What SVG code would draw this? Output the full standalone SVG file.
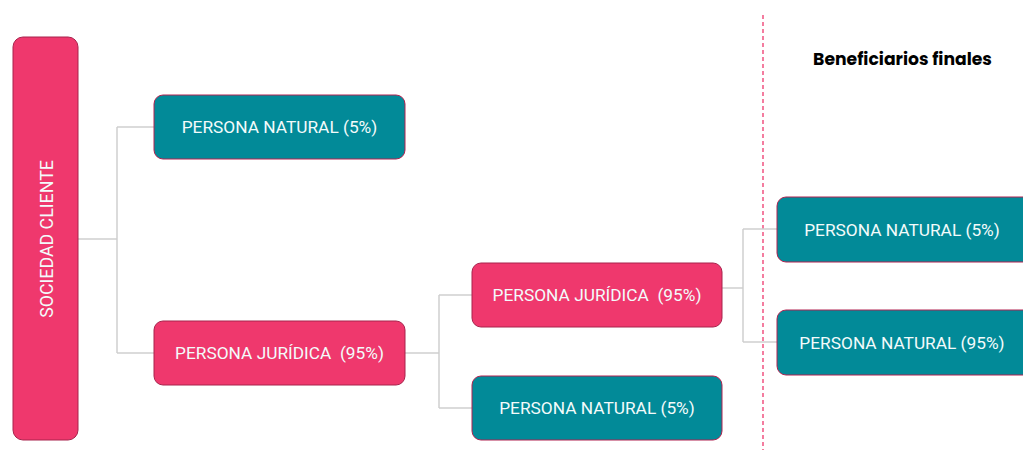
<svg xmlns="http://www.w3.org/2000/svg" width="1023" height="453" viewBox="0 0 1023 453">
<style>
.pink{fill:#ef386d;stroke:#a8234d;stroke-width:1}
.teal{fill:#028a98;stroke:#b02250;stroke-width:1}
.lbl{font-family:Roboto,"Liberation Sans",sans-serif;font-size:17.3px;fill:#f3fbfb;text-anchor:middle;dominant-baseline:central}
.conn{fill:none;stroke:#cfcfcf;stroke-width:1.5}
</style>
<rect width="1023" height="453" fill="#ffffff"/>
<line x1="763" y1="15" x2="763" y2="450" stroke="#ef386d" stroke-width="1.3" stroke-dasharray="4,3"/>
<text x="902.5" y="59" font-family="Poppins,Inter,'Liberation Sans',sans-serif" font-weight="700" font-size="17.2" fill="#000" text-anchor="middle" dominant-baseline="central">Beneficiarios finales</text>
<g id="connectors">
<path class="conn" d="M78,239 H117 M117,127 V353 M117,127 H154 M117,353 H154"/>
<path class="conn" d="M405,353 H439 M439,295 V408 M439,295 H472 M439,408 H472"/>
<path class="conn" d="M722,288 H743 M743,229 V342 M743,229 H777 M743,342 H777"/>
</g>
<g id="sociedad">
<rect class="pink" x="13" y="37" width="65" height="403" rx="10"/>
<text class="lbl" style="font-size:17.8px" transform="translate(46,239) rotate(-90)">SOCIEDAD CLIENTE</text>
</g>
<g id="pn1">
<rect class="teal" x="154" y="95" width="251" height="64" rx="9"/>
<text class="lbl" x="279.5" y="127">PERSONA NATURAL (5%)</text>
</g>
<g id="pj1">
<rect class="pink" x="154" y="321" width="251" height="64" rx="9"/>
<text class="lbl" x="279.5" y="353" xml:space="preserve">PERSONA JURÍDICA  (95%)</text>
</g>
<g id="pj2">
<rect class="pink" x="472" y="263" width="250" height="64" rx="9"/>
<text class="lbl" x="597" y="295" xml:space="preserve">PERSONA JURÍDICA  (95%)</text>
</g>
<g id="pn2">
<rect class="teal" x="472" y="376" width="250" height="64" rx="9"/>
<text class="lbl" x="597" y="408">PERSONA NATURAL (5%)</text>
</g>
<g id="bf1">
<rect class="teal" x="777" y="197" width="256" height="65" rx="9"/>
<text class="lbl" x="902" y="229.5">PERSONA NATURAL (5%)</text>
</g>
<g id="bf2">
<rect class="teal" x="777" y="310" width="256" height="65" rx="9"/>
<text class="lbl" x="902" y="342.5">PERSONA NATURAL (95%)</text>
</g>
</svg>
